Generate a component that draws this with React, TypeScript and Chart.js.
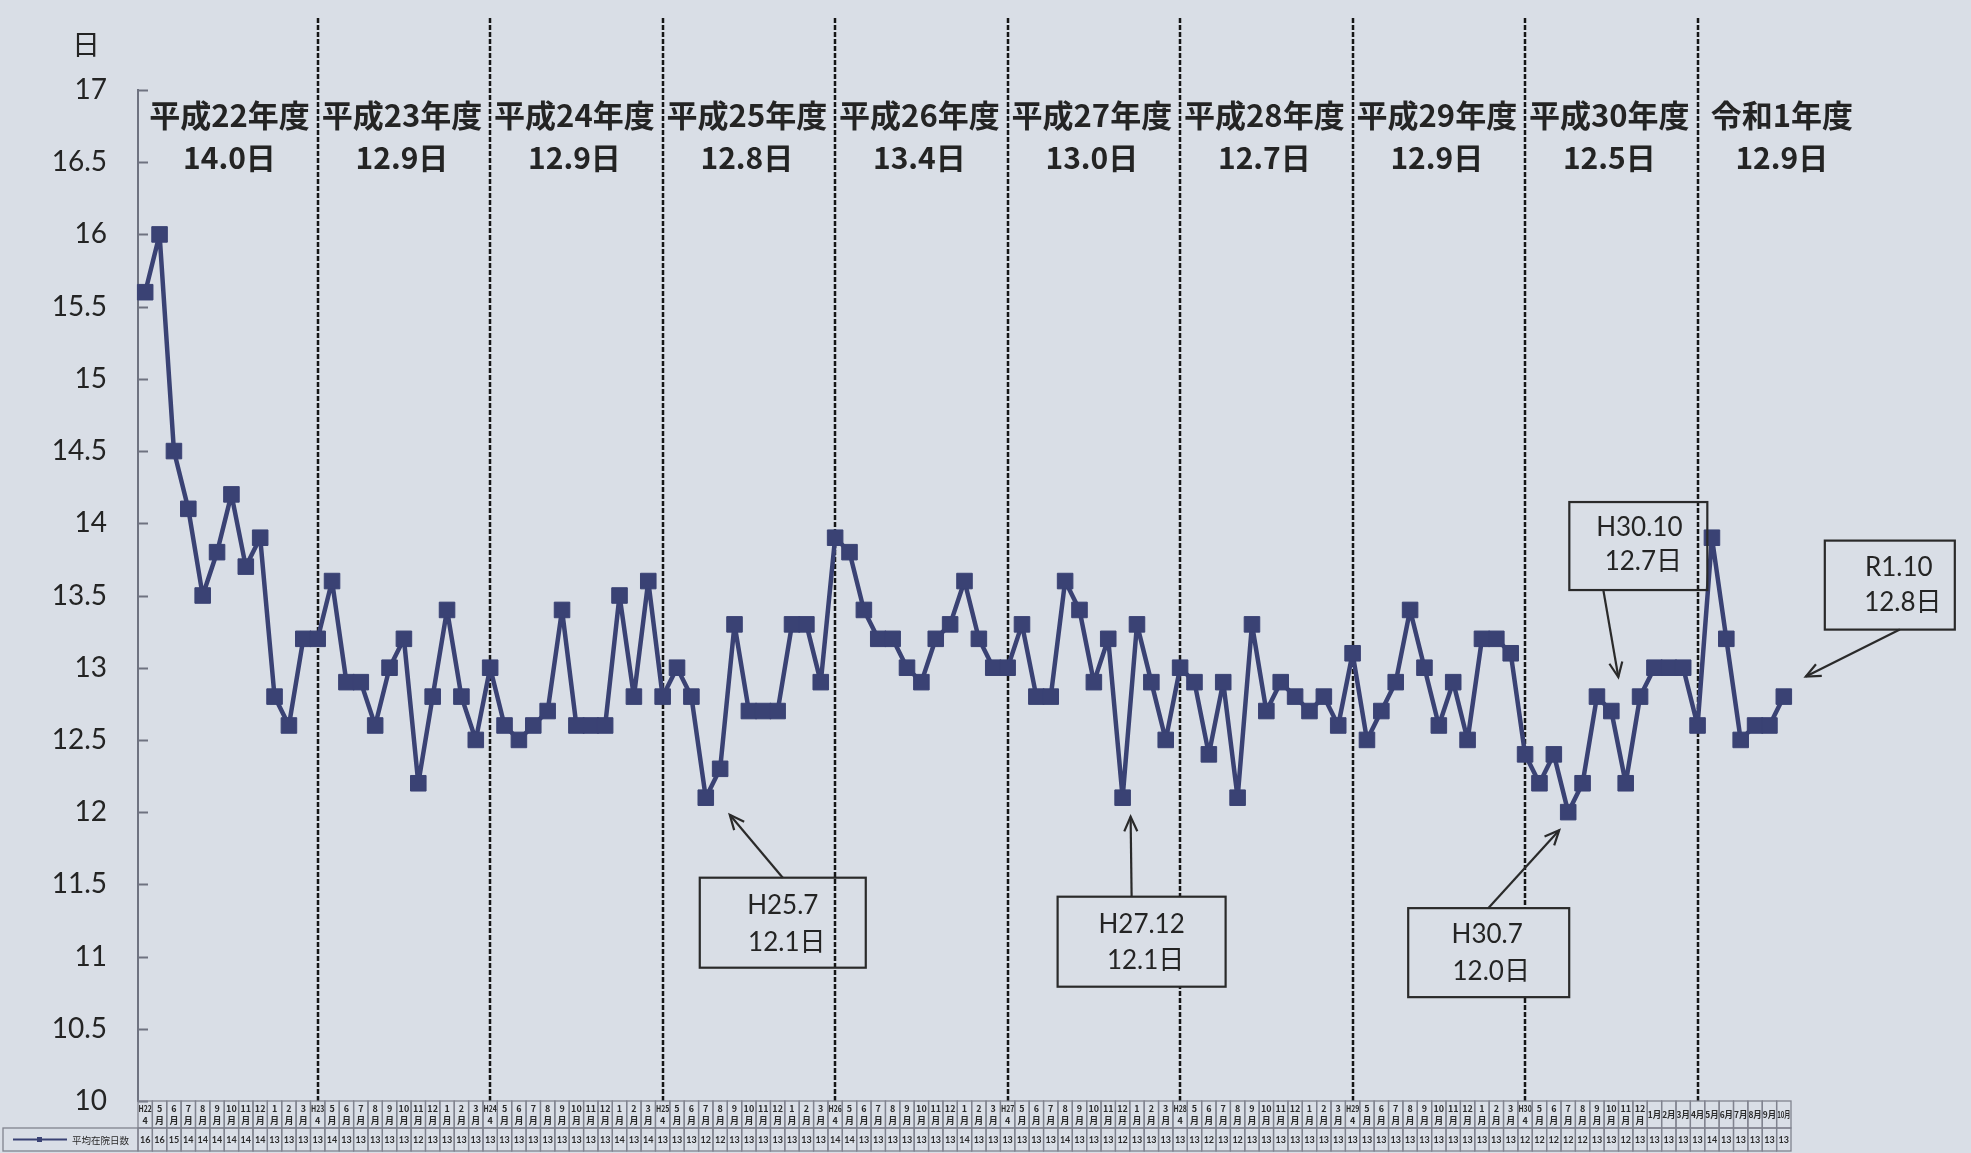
import React, { useEffect, useRef } from 'react';
import { Chart, registerables } from 'chart.js';

Chart.register(...registerables);

// ---------------- data ----------------
const fiscalYears = ['H22', 'H23', 'H24', 'H25', 'H26', 'H27', 'H28', 'H29', 'H30', 'R1'];
const monthNumbers = [4, 5, 6, 7, 8, 9, 10, 11, 12, 1, 2, 3];

const fyH22 = [15.6, 16.0, 14.5, 14.1, 13.5, 13.8, 14.2, 13.7, 13.9, 12.8, 12.6, 13.2];
const fyH23 = [13.2, 13.6, 12.9, 12.9, 12.6, 13.0, 13.2, 12.2, 12.8, 13.4, 12.8, 12.5];
const fyH24 = [13.0, 12.6, 12.5, 12.6, 12.7, 13.4, 12.6, 12.6, 12.6, 13.5, 12.8, 13.6];
const fyH25 = [12.8, 13.0, 12.8, 12.1, 12.3, 13.3, 12.7, 12.7, 12.7, 13.3, 13.3, 12.9];
const fyH26 = [13.9, 13.8, 13.4, 13.2, 13.2, 13.0, 12.9, 13.2, 13.3, 13.6, 13.2, 13.0];
const fyH27 = [13.0, 13.3, 12.8, 12.8, 13.6, 13.4, 12.9, 13.2, 12.1, 13.3, 12.9, 12.5];
const fyH28 = [13.0, 12.9, 12.4, 12.9, 12.1, 13.3, 12.7, 12.9, 12.8, 12.7, 12.8, 12.6];
const fyH29 = [13.1, 12.5, 12.7, 12.9, 13.4, 13.0, 12.6, 12.9, 12.5, 13.2, 13.2, 13.1];
const fyH30 = [12.4, 12.2, 12.4, 12.0, 12.2, 12.8, 12.7, 12.2, 12.8, 13.0, 13.0, 13.0];
const fyR1 = [12.6, 13.9, 13.2, 12.5, 12.6, 12.6, 12.8];

const seriesName = '平均在院日数';
const unitLabel = '日';
const yearTitles = ['平成22年度', '平成23年度', '平成24年度', '平成25年度', '平成26年度', '平成27年度', '平成28年度', '平成29年度', '平成30年度', '令和1年度'];
const yearAverages = ['14.0日', '12.9日', '12.9日', '12.8日', '13.4日', '13.0日', '12.7日', '12.9日', '12.5日', '12.9日'];
const yMin = 10;
const yMax = 17;
const yStep = 0.5;

const calloutIndex = [39, 68, 99, 102, 114];
const calloutTitle = ['H25.7', 'H27.12', 'H30.7', 'H30.10', 'R1.10'];
const calloutValue = ['12.1日', '12.1日', '12.0日', '12.7日', '12.8日'];

// ---------------- derived ----------------
const values = [...fyH22, ...fyH23, ...fyH24, ...fyH25, ...fyH26, ...fyH27, ...fyH28, ...fyH29, ...fyH30, ...fyR1];
const labels: string[] = [];
const headerTop: string[] = [];
const headerBottom: string[] = [];
fiscalYears.forEach((fy) => {
  monthNumbers.forEach((m) => {
    if (labels.length >= values.length) return;
    labels.push(`${fy}年度${m}月`);
    const i = labels.length - 1;
    if (i >= 105) {
      headerTop.push('');
      headerBottom.push(`${m}月`);
    } else if (m === 4) {
      headerTop.push(fy);
      headerBottom.push('4');
    } else {
      headerTop.push(String(m));
      headerBottom.push('月');
    }
  });
});

// ---------------- style ----------------
const W = 1971;
const H = 1153;
const BG = '#d9dee6';
const LINE = '#3a4274';
const TEXT = '#242424';
const LATIN = 'Lato, "Noto Sans CJK JP", sans-serif';
const CJK = '"Noto Sans CJK JP", "Noto Sans", sans-serif';

// layout of callouts relative to their point pixel
const calloutLayout = [
  { box: [-6, 80, 166, 90], start: [77, 80], tip: [24, 17], tc: 83, l1: 28, l2: 65, fill: false },
  { box: [-65, 99, 168, 90], start: [9, 99], tip: [8, 19], tc: 84, l1: 28, l2: 64, fill: true },
  { box: [-160, 96, 161, 89], start: [-80, 96], tip: [-9, 18], tc: 79, l1: 26, l2: 63, fill: true },
  { box: [-42, -209, 138, 88], start: [-8, -121], tip: [7, -34], tc: 70, l1: 26, l2: 60, fill: false },
  { box: [41, -156, 130, 89], start: [116, -67], tip: [22, -20], tc: 74, l1: 27, l2: 62, fill: false },
];

function drawArrow(ctx: CanvasRenderingContext2D, x1: number, y1: number, x2: number, y2: number) {
  ctx.beginPath();
  ctx.moveTo(x1, y1);
  ctx.lineTo(x2, y2);
  ctx.stroke();
  const a = Math.atan2(y2 - y1, x2 - x1);
  const L = 16;
  const sp = 0.42;
  ctx.beginPath();
  ctx.moveTo(x2 - L * Math.cos(a - sp), y2 - L * Math.sin(a - sp));
  ctx.lineTo(x2, y2);
  ctx.lineTo(x2 - L * Math.cos(a + sp), y2 - L * Math.sin(a + sp));
  ctx.stroke();
}

const overlayPlugin = {
  id: 'overlay',
  beforeDatasetsDraw(chart: any) {
    const { ctx, chartArea, scales } = chart;
    const x = scales.x;
    const y = scales.y;
    ctx.save();
    // inside tick marks on y axis
    ctx.strokeStyle = '#6e7280';
    ctx.lineWidth = 2;
    for (let v = yMin; v <= yMax + 1e-9; v += yStep) {
      const py = Math.round(y.getPixelForValue(v)) + 0.5;
      ctx.beginPath();
      ctx.moveTo(chartArea.left, py);
      ctx.lineTo(chartArea.left + 10, py);
      ctx.stroke();
    }
    // fiscal-year dashed separators
    ctx.strokeStyle = '#151515';
    ctx.lineWidth = 2.5;
    ctx.setLineDash([5, 2]);
    for (let k = 1; k < fiscalYears.length; k++) {
      const px = Math.round(x.getPixelForValue(k * 12));
      ctx.beginPath();
      ctx.moveTo(px, 18);
      ctx.lineTo(px, chartArea.bottom);
      ctx.stroke();
    }
    ctx.restore();
  },
  afterDraw(chart: any) {
    const { ctx, chartArea, scales } = chart;
    const x = scales.x;
    const y = scales.y;
    ctx.save();

    // unit label
    ctx.fillStyle = TEXT;
    ctx.textAlign = 'center';
    ctx.textBaseline = 'middle';
    ctx.font = `28px ${CJK}`;
    ctx.fillText(unitLabel, 86, 44);

    // fiscal year headers
    for (let k = 0; k < fiscalYears.length; k++) {
      const l = x.getPixelForValue(k * 12);
      const r = x.getPixelForValue(k * 12 + 12);
      const cx = (l + r) / 2 - 2;
      ctx.font = `bold 31px ${CJK}`;
      ctx.fillText(yearTitles[k], cx, 115);
      ctx.font = `bold 30px ${CJK}`;
      ctx.fillText(yearAverages[k], cx, 158);
    }

    // callouts
    ctx.strokeStyle = '#2a2a2a';
    ctx.lineWidth = 2.2;
    calloutIndex.forEach((idx, n) => {
      const px = x.getPixelForValue(idx);
      const py = y.getPixelForValue(values[idx]);
      const c = calloutLayout[n];
      const bx = px + c.box[0];
      const by = py + c.box[1];
      if (c.fill) {
        ctx.fillStyle = BG;
        ctx.fillRect(bx, by, c.box[2], c.box[3]);
      }
      ctx.strokeRect(bx, by, c.box[2], c.box[3]);
      drawArrow(ctx, px + c.start[0], py + c.start[1], px + c.tip[0], py + c.tip[1]);
      ctx.fillStyle = TEXT;
      ctx.font = `26px ${LATIN}`;
      ctx.fillText(calloutTitle[n], bx + c.tc, by + c.l1);
      ctx.fillText(calloutValue[n], bx + c.tc + 4, by + c.l2);
    });

    // data table
    const top = chartArea.bottom;
    const rowSplit = top + 27;
    const rowEnd = H - 2;
    const colW = (chartArea.right - chartArea.left) / values.length;
    ctx.strokeStyle = '#80838f';
    ctx.lineWidth = 1.3;
    ctx.fillStyle = '#2a2a2a';
    for (let i = 0; i < values.length; i++) {
      const cl = chartArea.left + i * colW;
      ctx.strokeRect(cl, top, colW, rowSplit - top);
      ctx.strokeRect(cl, rowSplit, colW, rowEnd - rowSplit);
      const cx = cl + colW / 2;
      ctx.font = `bold 9px ${CJK}`;
      if (headerTop[i]) {
        ctx.fillText(headerTop[i], cx, top + 8, colW - 1);
        ctx.fillText(headerBottom[i], cx, top + 20, colW - 1);
      } else {
        ctx.fillText(headerBottom[i], cx, top + 14, colW - 1);
      }
      ctx.font = `bold 9px ${LATIN}`;
      ctx.fillText(String(Math.round(values[i])), cx, (rowSplit + rowEnd) / 2 + 0.5, colW - 1);
    }
    // legend cell
    ctx.strokeRect(3, rowSplit, chartArea.left - 3, rowEnd - rowSplit);
    const ly = (rowSplit + rowEnd) / 2;
    ctx.strokeStyle = LINE;
    ctx.lineWidth = 2;
    ctx.beginPath();
    ctx.moveTo(13, ly);
    ctx.lineTo(67, ly);
    ctx.stroke();
    ctx.fillStyle = LINE;
    ctx.fillRect(37, ly - 2.5, 5, 5);
    ctx.fillStyle = '#2a2a2a';
    ctx.textAlign = 'left';
    ctx.font = `9.5px ${CJK}`;
    ctx.fillText(seriesName, 72, ly + 0.5);

    ctx.restore();
  },
};

export default function App() {
  const ref = useRef<HTMLCanvasElement>(null);
  useEffect(() => {
    const canvas = ref.current;
    if (!canvas) return;
    const chart = new Chart(canvas, {
      type: 'line',
      data: {
        labels,
        datasets: [
          {
            label: seriesName,
            data: values,
            borderColor: LINE,
            backgroundColor: LINE,
            borderWidth: 4.5,
            borderJoinStyle: 'round',
            borderCapStyle: 'round',
            pointStyle: 'rect',
            pointRadius: 11,
            pointBorderWidth: 1,
            pointBackgroundColor: LINE,
            pointBorderColor: LINE,
            tension: 0,
            fill: false,
          },
        ],
      },
      options: {
        animation: false,
        responsive: false,
        devicePixelRatio: 1,
        layout: { padding: { left: 0, right: 180, top: 90, bottom: 0 } },
        plugins: {
          legend: { display: false },
          tooltip: { enabled: false },
          title: { display: false },
        },
        scales: {
          x: {
            type: 'category',
            offset: true,
            grid: { display: false, drawTicks: false },
            border: { display: false },
            ticks: { display: false },
            afterFit: (s: any) => {
              s.height = 52;
            },
          },
          y: {
            min: yMin,
            max: yMax,
            grid: { display: false, drawTicks: false },
            border: { display: true, color: '#6e7280', width: 2 },
            ticks: {
              stepSize: yStep,
              autoSkip: false,
              padding: 31,
              color: TEXT,
              font: { family: 'Lato', size: 28 },
              callback: (v: any) => String(v),
            },
            afterFit: (s: any) => {
              s.width = 138;
            },
          },
        },
      },
      plugins: [overlayPlugin],
    });
    return () => chart.destroy();
  }, []);
  return (
    <div style={{ position: 'absolute', left: 0, top: 0, width: W, height: H, background: BG, overflow: 'hidden' }}>
      <canvas ref={ref} width={W} height={H} style={{ display: 'block', width: W, height: H }} />
    </div>
  );
}
